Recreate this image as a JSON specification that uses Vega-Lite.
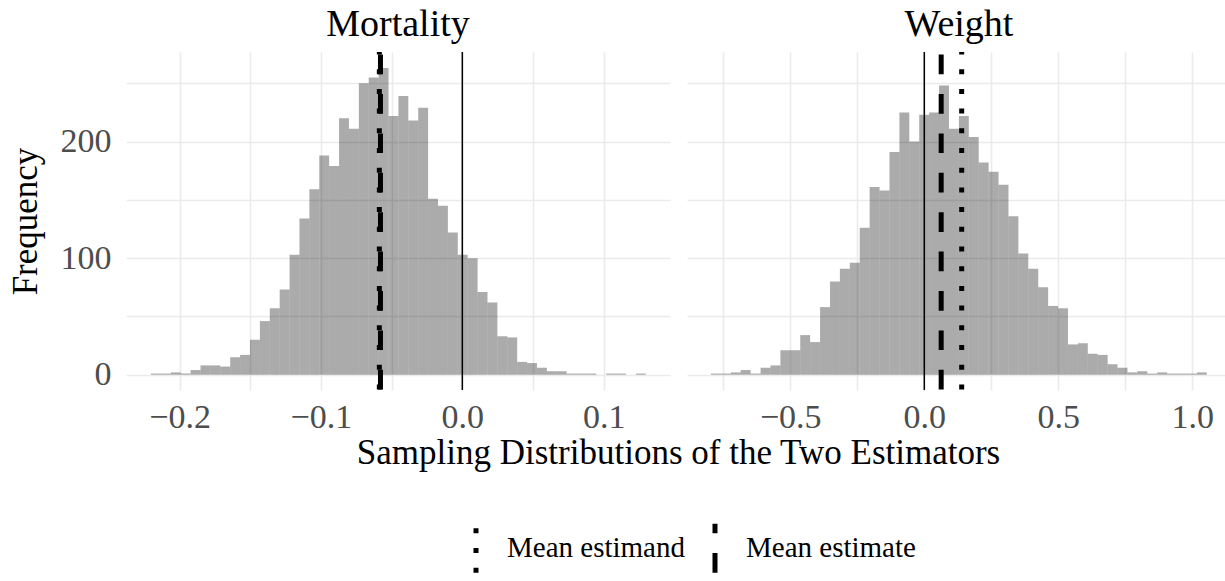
{
"$schema": "https://vega.github.io/schema/vega-lite/v6.json",
"padding": {"left": 8, "top": 5, "right": 0, "bottom": 0},
"bounds": "flush",
"spacing": 17,
"config": {
  "font": "Liberation Serif",
  "view": {"stroke": null},
  "axis": {"grid": true, "gridColor": "#ebebeb", "gridWidth": 1.6, "domain": false, "ticks": false, "labelFont": "Liberation Serif", "labelFontSize": 34, "labelColor": "#4d4d4d", "titleFont": "Liberation Serif", "titleFontSize": 35, "titleFontWeight": "normal", "titleColor": "#000"},
  "title": {"font": "Liberation Serif", "fontSize": 38, "fontWeight": "normal", "color": "#000", "baseline": "alphabetic", "offset": 6}
},
"datasets": {
  "bins": [
    {"panel":"Mortality","x0":-0.2202,"x1":-0.2132,"n":1},
    {"panel":"Mortality","x0":-0.2132,"x1":-0.2062,"n":1},
    {"panel":"Mortality","x0":-0.2062,"x1":-0.1992,"n":2},
    {"panel":"Mortality","x0":-0.1992,"x1":-0.1922,"n":1},
    {"panel":"Mortality","x0":-0.1922,"x1":-0.1852,"n":4},
    {"panel":"Mortality","x0":-0.1852,"x1":-0.1782,"n":8},
    {"panel":"Mortality","x0":-0.1782,"x1":-0.1712,"n":8},
    {"panel":"Mortality","x0":-0.1712,"x1":-0.1642,"n":7},
    {"panel":"Mortality","x0":-0.1642,"x1":-0.1572,"n":15},
    {"panel":"Mortality","x0":-0.1572,"x1":-0.1502,"n":17},
    {"panel":"Mortality","x0":-0.1502,"x1":-0.1432,"n":30},
    {"panel":"Mortality","x0":-0.1432,"x1":-0.1362,"n":46},
    {"panel":"Mortality","x0":-0.1362,"x1":-0.1292,"n":57},
    {"panel":"Mortality","x0":-0.1292,"x1":-0.1222,"n":73},
    {"panel":"Mortality","x0":-0.1222,"x1":-0.1152,"n":103},
    {"panel":"Mortality","x0":-0.1152,"x1":-0.1082,"n":134},
    {"panel":"Mortality","x0":-0.1082,"x1":-0.1012,"n":159},
    {"panel":"Mortality","x0":-0.1012,"x1":-0.0942,"n":188},
    {"panel":"Mortality","x0":-0.0942,"x1":-0.0872,"n":179},
    {"panel":"Mortality","x0":-0.0872,"x1":-0.0802,"n":220},
    {"panel":"Mortality","x0":-0.0802,"x1":-0.0732,"n":211},
    {"panel":"Mortality","x0":-0.0732,"x1":-0.0662,"n":250},
    {"panel":"Mortality","x0":-0.0662,"x1":-0.0592,"n":255},
    {"panel":"Mortality","x0":-0.0592,"x1":-0.0522,"n":263},
    {"panel":"Mortality","x0":-0.0522,"x1":-0.0452,"n":222},
    {"panel":"Mortality","x0":-0.0452,"x1":-0.0382,"n":239},
    {"panel":"Mortality","x0":-0.0382,"x1":-0.0312,"n":218},
    {"panel":"Mortality","x0":-0.0312,"x1":-0.0242,"n":229},
    {"panel":"Mortality","x0":-0.0242,"x1":-0.0172,"n":151},
    {"panel":"Mortality","x0":-0.0172,"x1":-0.0102,"n":145},
    {"panel":"Mortality","x0":-0.0102,"x1":-0.0032,"n":122},
    {"panel":"Mortality","x0":-0.0032,"x1":0.0038,"n":103},
    {"panel":"Mortality","x0":0.0038,"x1":0.0108,"n":100},
    {"panel":"Mortality","x0":0.0108,"x1":0.0178,"n":71},
    {"panel":"Mortality","x0":0.0178,"x1":0.0248,"n":62},
    {"panel":"Mortality","x0":0.0248,"x1":0.0318,"n":33},
    {"panel":"Mortality","x0":0.0318,"x1":0.0388,"n":32},
    {"panel":"Mortality","x0":0.0388,"x1":0.0458,"n":11},
    {"panel":"Mortality","x0":0.0458,"x1":0.0528,"n":10},
    {"panel":"Mortality","x0":0.0528,"x1":0.0598,"n":6},
    {"panel":"Mortality","x0":0.0598,"x1":0.0668,"n":3},
    {"panel":"Mortality","x0":0.0668,"x1":0.0738,"n":3},
    {"panel":"Mortality","x0":0.0738,"x1":0.0808,"n":1},
    {"panel":"Mortality","x0":0.0808,"x1":0.0878,"n":1},
    {"panel":"Mortality","x0":0.0878,"x1":0.0948,"n":1},
    {"panel":"Mortality","x0":0.0948,"x1":0.1018,"n":0},
    {"panel":"Mortality","x0":0.1018,"x1":0.1088,"n":1},
    {"panel":"Mortality","x0":0.1088,"x1":0.1158,"n":1},
    {"panel":"Mortality","x0":0.1158,"x1":0.1228,"n":0},
    {"panel":"Mortality","x0":0.1228,"x1":0.1298,"n":1},
    {"panel":"Weight","x0":-0.7959,"x1":-0.7589,"n":1},
    {"panel":"Weight","x0":-0.7589,"x1":-0.7219,"n":1},
    {"panel":"Weight","x0":-0.7219,"x1":-0.6849,"n":2},
    {"panel":"Weight","x0":-0.6849,"x1":-0.6479,"n":4},
    {"panel":"Weight","x0":-0.6479,"x1":-0.6109,"n":1},
    {"panel":"Weight","x0":-0.6109,"x1":-0.5739,"n":6},
    {"panel":"Weight","x0":-0.5739,"x1":-0.5369,"n":8},
    {"panel":"Weight","x0":-0.5369,"x1":-0.4999,"n":21},
    {"panel":"Weight","x0":-0.4999,"x1":-0.4629,"n":21},
    {"panel":"Weight","x0":-0.4629,"x1":-0.4259,"n":34},
    {"panel":"Weight","x0":-0.4259,"x1":-0.3889,"n":28},
    {"panel":"Weight","x0":-0.3889,"x1":-0.3519,"n":58},
    {"panel":"Weight","x0":-0.3519,"x1":-0.3149,"n":80},
    {"panel":"Weight","x0":-0.3149,"x1":-0.2779,"n":91},
    {"panel":"Weight","x0":-0.2779,"x1":-0.2409,"n":96},
    {"panel":"Weight","x0":-0.2409,"x1":-0.2039,"n":126},
    {"panel":"Weight","x0":-0.2039,"x1":-0.1669,"n":161},
    {"panel":"Weight","x0":-0.1669,"x1":-0.1299,"n":158},
    {"panel":"Weight","x0":-0.1299,"x1":-0.0929,"n":191},
    {"panel":"Weight","x0":-0.0929,"x1":-0.0559,"n":225},
    {"panel":"Weight","x0":-0.0559,"x1":-0.0189,"n":200},
    {"panel":"Weight","x0":-0.0189,"x1":0.0181,"n":223},
    {"panel":"Weight","x0":0.0181,"x1":0.0551,"n":225},
    {"panel":"Weight","x0":0.0551,"x1":0.0921,"n":248},
    {"panel":"Weight","x0":0.0921,"x1":0.1291,"n":211},
    {"panel":"Weight","x0":0.1291,"x1":0.1661,"n":222},
    {"panel":"Weight","x0":0.1661,"x1":0.2031,"n":204},
    {"panel":"Weight","x0":0.2031,"x1":0.2401,"n":182},
    {"panel":"Weight","x0":0.2401,"x1":0.2771,"n":174},
    {"panel":"Weight","x0":0.2771,"x1":0.3141,"n":163},
    {"panel":"Weight","x0":0.3141,"x1":0.3511,"n":136},
    {"panel":"Weight","x0":0.3511,"x1":0.3881,"n":104},
    {"panel":"Weight","x0":0.3881,"x1":0.4251,"n":91},
    {"panel":"Weight","x0":0.4251,"x1":0.4621,"n":75},
    {"panel":"Weight","x0":0.4621,"x1":0.4991,"n":59},
    {"panel":"Weight","x0":0.4991,"x1":0.5361,"n":57},
    {"panel":"Weight","x0":0.5361,"x1":0.5731,"n":26},
    {"panel":"Weight","x0":0.5731,"x1":0.6101,"n":27},
    {"panel":"Weight","x0":0.6101,"x1":0.6471,"n":18},
    {"panel":"Weight","x0":0.6471,"x1":0.6841,"n":17},
    {"panel":"Weight","x0":0.6841,"x1":0.7211,"n":9},
    {"panel":"Weight","x0":0.7211,"x1":0.7581,"n":6},
    {"panel":"Weight","x0":0.7581,"x1":0.7951,"n":2},
    {"panel":"Weight","x0":0.7951,"x1":0.8321,"n":3},
    {"panel":"Weight","x0":0.8321,"x1":0.8691,"n":1},
    {"panel":"Weight","x0":0.8691,"x1":0.9061,"n":2},
    {"panel":"Weight","x0":0.9061,"x1":0.9431,"n":1},
    {"panel":"Weight","x0":0.9431,"x1":0.9801,"n":1},
    {"panel":"Weight","x0":0.9801,"x1":1.0171,"n":1},
    {"panel":"Weight","x0":1.0171,"x1":1.0541,"n":2}
  ],
  "lines": [
    {"panel":"Mortality","kind":"zero","value":0},
    {"panel":"Mortality","kind":"Mean estimate","value":-0.0579},
    {"panel":"Mortality","kind":"Mean estimand","value":-0.0587},
    {"panel":"Weight","kind":"zero","value":0},
    {"panel":"Weight","kind":"Mean estimate","value":0.063},
    {"panel":"Weight","kind":"Mean estimand","value":0.1395}
  ]
},
"hconcat": [
  {
    "width": 544, "height": 338,
    "title": {"text": "Mortality"},
    "layer": [
      {
        "data": {"name": "bins"},
        "transform": [{"filter": "datum.panel === 'Mortality'"}],
        "mark": {"type": "rect", "fill": "#000", "fillOpacity": 0.33},
        "encoding": {
          "x": {"field": "x0", "type": "quantitative", "scale": {"domain": [-0.2379, 0.1469], "nice": false, "zero": false},
                "axis": {"values": [-0.2, -0.15, -0.1, -0.05, 0, 0.05, 0.1], "labelExpr": "abs(datum.value*10 - round(datum.value*10)) < 0.001 ? format(datum.value, '.1f') : ''", "labelPadding": 10, "title": "Sampling Distributions of the Two Estimators", "titleX": 552, "titleY": 73, "titleAlign": "center", "titleAnchor": null, "titleBaseline": "alphabetic"}},
          "x2": {"field": "x1"},
          "y": {"field": "n", "type": "quantitative", "scale": {"domain": [-13.1, 276.8], "nice": false, "zero": false},
                "axis": {"values": [0, 50, 100, 150, 200, 250], "labelExpr": "datum.value % 100 === 0 ? datum.label : ''", "labelPadding": 15, "title": "Frequency", "titlePadding": 17}},
          "y2": {"datum": 0}
        }
      },
      {
        "data": {"name": "lines"},
        "transform": [{"filter": "datum.panel === 'Mortality' && datum.kind === 'zero'"}],
        "mark": {"type": "rule", "color": "#000", "strokeWidth": 1.5},
        "encoding": {"x": {"field": "value", "type": "quantitative"}}
      },
      {
        "data": {"name": "lines"},
        "transform": [{"filter": "datum.panel === 'Mortality' && datum.kind === 'Mean estimate'"}],
        "mark": {"type": "rule", "color": "#000", "strokeWidth": 5, "strokeDashOffset": 36.8},
        "encoding": {"x": {"field": "value", "type": "quantitative"},
          "strokeDash": {"field": "kind", "type": "nominal", "scale": {"domain": ["Mean estimand", "Mean estimate"], "range": [[5, 14.7], [19.7, 19.7]]},
            "legend": {"title": null, "orient": "none", "legendX": 323, "legendY": 469, "direction": "horizontal", "symbolType": "M0,1L0,-1", "symbolSize": 2401, "symbolStrokeWidth": 5, "symbolStrokeColor": "#000", "labelFont": "Liberation Serif", "labelFontSize": 29, "labelColor": "#000", "labelOffset": 4, "labelLimit": 0, "columnPadding": 3, "padding": 0}}}
      },
      {
        "data": {"name": "lines"},
        "transform": [{"filter": "datum.panel === 'Mortality' && datum.kind === 'Mean estimand'"}],
        "mark": {"type": "rule", "color": "#000", "strokeWidth": 5, "strokeDashOffset": 2.5},
        "encoding": {"x": {"field": "value", "type": "quantitative"},
          "strokeDash": {"field": "kind", "type": "nominal"}}
      }
    ]
  },
  {
    "width": 544, "height": 338,
    "title": {"text": "Weight"},
    "layer": [
      {
        "data": {"name": "bins"},
        "transform": [{"filter": "datum.panel === 'Weight'"}],
        "mark": {"type": "rect", "fill": "#000", "fillOpacity": 0.33},
        "encoding": {
          "x": {"field": "x0", "type": "quantitative", "scale": {"domain": [-0.8854, 1.1444], "nice": false, "zero": false},
                "axis": {"values": [-0.75, -0.5, -0.25, 0, 0.25, 0.5, 0.75, 1], "labelExpr": "abs(datum.value*2 - round(datum.value*2)) < 0.001 ? format(datum.value, '.1f') : ''", "labelPadding": 10, "title": null}},
          "x2": {"field": "x1"},
          "y": {"field": "n", "type": "quantitative", "scale": {"domain": [-13.1, 276.8], "nice": false, "zero": false},
                "axis": {"values": [0, 50, 100, 150, 200, 250], "labels": false, "title": null}},
          "y2": {"datum": 0}
        }
      },
      {
        "data": {"name": "lines"},
        "transform": [{"filter": "datum.panel === 'Weight' && datum.kind === 'zero'"}],
        "mark": {"type": "rule", "color": "#000", "strokeWidth": 1.5},
        "encoding": {"x": {"field": "value", "type": "quantitative"}}
      },
      {
        "data": {"name": "lines"},
        "transform": [{"filter": "datum.panel === 'Weight' && datum.kind === 'Mean estimate'"}],
        "mark": {"type": "rule", "color": "#000", "strokeWidth": 5, "strokeDashOffset": 36.8},
        "encoding": {"x": {"field": "value", "type": "quantitative"},
          "strokeDash": {"field": "kind", "type": "nominal"}}
      },
      {
        "data": {"name": "lines"},
        "transform": [{"filter": "datum.panel === 'Weight' && datum.kind === 'Mean estimand'"}],
        "mark": {"type": "rule", "color": "#000", "strokeWidth": 5, "strokeDashOffset": 2.5},
        "encoding": {"x": {"field": "value", "type": "quantitative"},
          "strokeDash": {"field": "kind", "type": "nominal"}}
      }
    ]
  }
]
}
